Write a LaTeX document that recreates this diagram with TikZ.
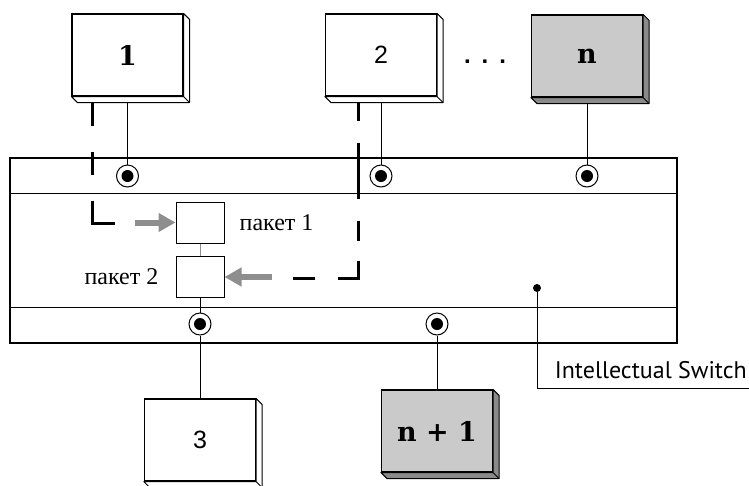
\documentclass[tikz,border=0pt]{standalone}
\usepackage{fontspec}
\setmainfont{Liberation Serif}
\newfontfamily\slabfont{DejaVu Serif}
\newfontfamily\digitfont{Liberation Sans}
\newfontfamily\tagfont{PT Sans}
\usetikzlibrary{arrows.meta,positioning,backgrounds}
\pgfdeclarelayer{background}
\pgfsetlayers{background,main}
\definecolor{hostcol}{HTML}{CACACA}
\definecolor{sidecol}{HTML}{8A8A8A}
\definecolor{pushcol}{HTML}{8E8E8E}
\tikzstyle{link} = [black,line width=.8pt]
\tikzstyle{route} = [black,line width=3pt]
\tikzstyle{push} = [-{Triangle[length=17pt,width=18pt]},pushcol,line width=6pt]
\tikzstyle{bar} = [black,line width=1.2pt]
\newlength{\sidedepth}
\setlength{\sidedepth}{6pt}
\tikzset{
  station/.style 2 args = {
    shape = rectangle,
    draw,
    line width = 1.2pt,
    fill = #1,
    minimum width = 111pt,
    minimum height = 82pt,
    inner sep = 0pt,
    append after command = {
      \pgfextra{
        \let\TikZlastnode\tikzlastnode
        \draw[line width=1pt, fill=#2, line join=round]
          (\TikZlastnode.north east)
          -- ([xshift=\sidedepth,yshift=-\sidedepth]\TikZlastnode.north east)
          -- ([xshift=\sidedepth,yshift=-\sidedepth]\TikZlastnode.south east)
          -- ([xshift=\sidedepth,yshift=-\sidedepth]\TikZlastnode.south west)
          -- (\TikZlastnode.south west) -- (\TikZlastnode.south east) -- cycle;
        \draw[line width=.8pt] (\TikZlastnode.south east)
          -- ([xshift=\sidedepth,yshift=-\sidedepth]\TikZlastnode.south east);
      }
    }
  },
  port/.style = {
    shape = circle,
    draw,
    line width = 1pt,
    fill = white,
    minimum size = 22pt,
    inner sep = 0pt,
    path picture = {\fill[black] (path picture bounding box.center) circle (6pt);}
  },
  packet/.style = {
    draw,
    line width = 1pt,
    fill = white,
    minimum width = 48pt,
    minimum height = 41pt,
    inner sep = 0pt
  },
  switchbox/.style = {
    draw,
    line width = 1.2pt,
    minimum width = 667pt,
    minimum height = 185pt,
    inner sep = 0pt
  },
  hub/.style = {circle, fill=black, inner sep=0pt, minimum size=8pt},
  slab label/.style = {font=\slabfont\bfseries\fontsize{27}{32}\selectfont},
  digit label/.style = {font=\digitfont\fontsize{25}{30}\selectfont},
  packet label/.style = {font=\fontsize{24}{28}\selectfont, inner sep=0pt},
  tag label/.style = {font=\tagfont\fontsize{24}{28}\selectfont, inner sep=0pt}
}

\begin{document}
\begin{tikzpicture}[x=1pt,y=-1pt]
    \useasboundingbox (0,0) rectangle (749,485);

    % switch
    \node[switchbox] (sw) at (343.5,250.5) {};
    \draw[bar] ([yshift=-36pt]sw.north west) -- ([yshift=-36pt]sw.north east);
    \draw[bar] ([yshift=36pt]sw.south west) -- ([yshift=36pt]sw.south east);

    % stations
    \node[station={white}{white}, slab label] (st1) at (127.5,55) {1};
    \node[station={white}{white}, digit label] (st2) at (381,55) {2};
    \node[station={hostcol}{sidecol}, slab label] (stn) at (587,56) {n};
    \node[font=\digitfont\bfseries\fontsize{24}{28}\selectfont] (dots) at (485,62) {.\hspace{11pt}.\hspace{11pt}.};

    \node[station={white}{white}, digit label] (st3) at (200,440) {3};
    \node[station={hostcol}{sidecol}, slab label] (stn1) at (437,431) {n + 1};

    % ports
    \node[port] (pt1) at (127.5,176) {};
    \node[port] (pt2) at (381,176) {};
    \node[port] (ptn) at (587,176) {};
    \node[port] (pb1) at (200,324) {};
    \node[port] (pb2) at (437,324) {};

    % packets
    \node[packet] (pk1) at (200,222.5) {};
    \node[packet] (pk2) at (200,277) {};
    \node[packet label, right=15pt of pk1] (lb1) {пакет 1};
    \node[packet label, left=17pt of pk2] (lb2) {пакет 2};

    % switch label
    \node[hub] (hub) at (537,288) {};
    \coordinate (tagend) at (749,388);
    \node[tag label, anchor=base east] (tag) at (747,378) {Intellectual Switch};

    \coordinate (bend1) at (115,223);
    \coordinate (bend2) at (293,278);
    \coordinate (from1) at (135,222.5);
    \coordinate (from2) at (272,277);

    % Paths

    \begin{pgfonlayer}{background}
        \draw[link] (st1) -- (pt1);
        \draw[link] (st2) -- (pt2);
        \draw[link] (stn) -- (ptn);
        \draw[link] (pb1) -- (st3);
        \draw[link] (pb2) -- (stn1);
        \draw[link] (pk2) -- (pb1);
        \draw[link,pushcol] (pk1) -- (pk2);
        \draw[link] (hub) |- (tagend);

        \draw[route, dash pattern=on 23pt off 26pt on 23pt off 26pt on 45pt off 100pt]
            (st1.south west) ++(21pt,-6pt) |- (bend1);
        \draw[route, dash pattern=on 18pt off 22pt on 56pt off 22pt on 20pt off 20pt on 38pt off 23pt on 24pt off 100pt]
            (st2.south west) ++(34pt,-6pt) |- (bend2);
    \end{pgfonlayer}

    \draw[push] (from1) -- (pk1.west);
    \draw[push] (from2) -- (pk2.east);
\end{tikzpicture}
\end{document}
